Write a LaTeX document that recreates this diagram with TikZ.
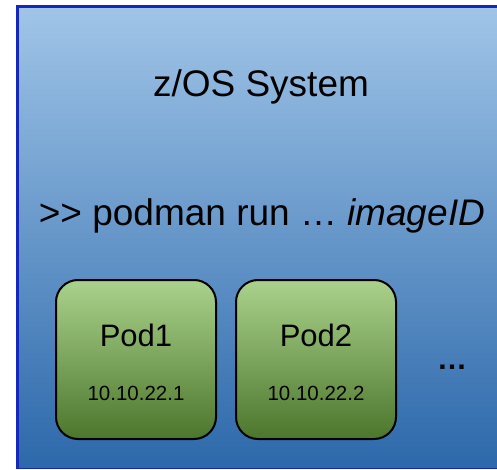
\documentclass[tikz,border=0pt]{standalone}
\usepackage{fontspec}
\setmainfont{Liberation Sans}[Ligatures=NoCommon]
\definecolor{sysborder}{RGB}{20,40,185}
\definecolor{systop}{RGB}{160,197,232}
\definecolor{sysbot}{RGB}{44,104,170}
\definecolor{podtop}{RGB}{170,210,140}
\definecolor{podbot}{RGB}{76,118,44}
\tikzset{
  pod/.style={draw=black, line width=2pt, rounded corners=22pt, top color=podtop, bottom color=podbot},
  big/.style={font=\fontsize{37}{44}\selectfont, inner sep=0pt, anchor=base},
  podname/.style={font=\fontsize{31}{36}\selectfont, inner sep=0pt, anchor=base},
  podip/.style={font=\fontsize{20.5}{24}\selectfont, inner sep=0pt, anchor=base},
}
\begin{document}
\begin{tikzpicture}[x=1pt,y=-1pt]
\useasboundingbox (0,0) rectangle (497,470);
\begin{scope}
\clip (0,0) rectangle (497,470);
\path[top color=systop, bottom color=sysbot] (17.5,6.5) rectangle (520,468.5);
\draw[sysborder, line width=3pt] (520,6.5) -- (17.5,6.5) -- (17.5,468.5);
\draw[sysborder, line width=1.2pt] (17.5,468.8) -- (520,468.8);
\end{scope}
\node[big] (title) at (261,96.7) {z/OS System};
\node[big] (cmd) at (262,225) {\mbox{>}\mbox{>} podman run … \textit{imageID}};
\path[pod] (56,280) rectangle (216,439);
\path[pod] (236,280) rectangle (396,439);
\node[podname] (p1) at (136,346) {Pod1};
\node[podip] (ip1) at (136,400) {10.10.22.1};
\node[podname] (p2) at (316,346) {Pod2};
\node[podip] (ip2) at (316,400) {10.10.22.2};
\node[font=\fontsize{30}{36}\selectfont\bfseries, inner sep=0pt, anchor=base] (dots) at (452,369) {…};
\end{tikzpicture}
\end{document}
